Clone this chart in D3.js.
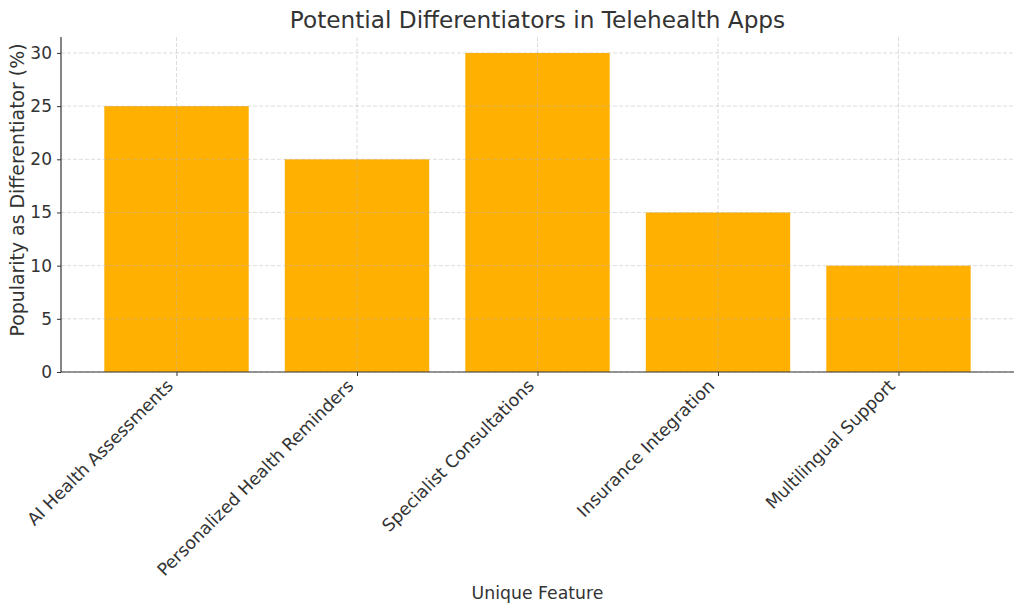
<!DOCTYPE html>
<html><head><meta charset="utf-8">
<script src="https://cdn.jsdelivr.net/npm/d3@7"></script>
<style>body{margin:0;background:#fff;} text{font-family:"DejaVu Sans",sans-serif;}</style>
</head><body><svg id="c" width="1024" height="613"></svg>
<script>
const categories = ["AI Health Assessments","Personalized Health Reminders","Specialist Consultations","Insurance Integration","Multilingual Support"];
const values = [25, 20, 30, 15, 10];
const yTicks = [0, 5, 10, 15, 20, 25, 30];
const title = "Potential Differentiators in Telehealth Apps";
const xLabel = "Unique Feature";
const yLabel = "Popularity as Differentiator (%)";

const svg = d3.select("#c");
const L = 61, R = 1014, T = 37, B = 372;
const n = categories.length;
const x = d3.scaleLinear().domain([-0.64, n - 1 + 0.64]).range([L, R]);
const y = d3.scaleLinear().domain([0, 31.5]).range([B, T]);
const bw = x(0.8) - x(0);
const textCol = "#333";

// bars
svg.append("g").selectAll("rect").data(values).enter().append("rect")
  .attr("x", (d,i) => x(i) - bw/2).attr("width", bw)
  .attr("y", d => y(d)).attr("height", d => y(0) - y(d))
  .attr("fill", "#FFB000");

// grid
const grid = svg.append("g").attr("stroke", "#b0b0b0").attr("stroke-opacity", 0.55)
  .attr("stroke-dasharray", "4,2").attr("stroke-width", 0.8);
yTicks.forEach(t => grid.append("line").attr("x1", L).attr("x2", R).attr("y1", y(t)).attr("y2", y(t)));
categories.forEach((c,i) => grid.append("line").attr("x1", x(i)).attr("x2", x(i)).attr("y1", T).attr("y2", B));

// axes
const yAxis = d3.axisLeft(y).tickValues(yTicks).tickSize(4).tickPadding(5);
const gy = svg.append("g").attr("transform", `translate(${L},0)`).call(yAxis);
gy.select(".domain").attr("stroke", "#333").attr("stroke-width", 1.2).attr("d", `M0,${T}V${B}`);
gy.selectAll(".tick line").attr("stroke", "#333");
gy.selectAll(".tick text").attr("font-size", 17).attr("fill", textCol).attr("font-family", "DejaVu Sans");

const xAxis = d3.axisBottom(x).tickValues(d3.range(n)).tickFormat(i => categories[i]).tickSize(4);
const gx = svg.append("g").attr("transform", `translate(0,${B})`).call(xAxis);
gx.select(".domain").attr("stroke", "#333").attr("stroke-width", 1.2).attr("d", `M${L},0H${R}`);
gx.selectAll(".tick line").attr("stroke", "#333");
gx.selectAll(".tick text").attr("font-size", 17.3).attr("fill", textCol).attr("font-family", "DejaVu Sans")
  .attr("text-anchor", "end").attr("dy", "0").attr("y", 0)
  .attr("transform", "translate(-3,15) rotate(-45)");

// labels
svg.append("text").attr("x", (L+R)/2).attr("y", 28).attr("text-anchor", "middle")
  .attr("font-size", 23.2).attr("fill", textCol).text(title);
svg.append("text").attr("x", (L+R)/2).attr("y", 599).attr("text-anchor", "middle")
  .attr("font-size", 17.3).attr("fill", textCol).text(xLabel);
svg.append("text").attr("transform", `translate(24,190) rotate(-90)`).attr("text-anchor", "middle")
  .attr("font-size", 18.9).attr("fill", textCol).text(yLabel);
</script></body></html>
